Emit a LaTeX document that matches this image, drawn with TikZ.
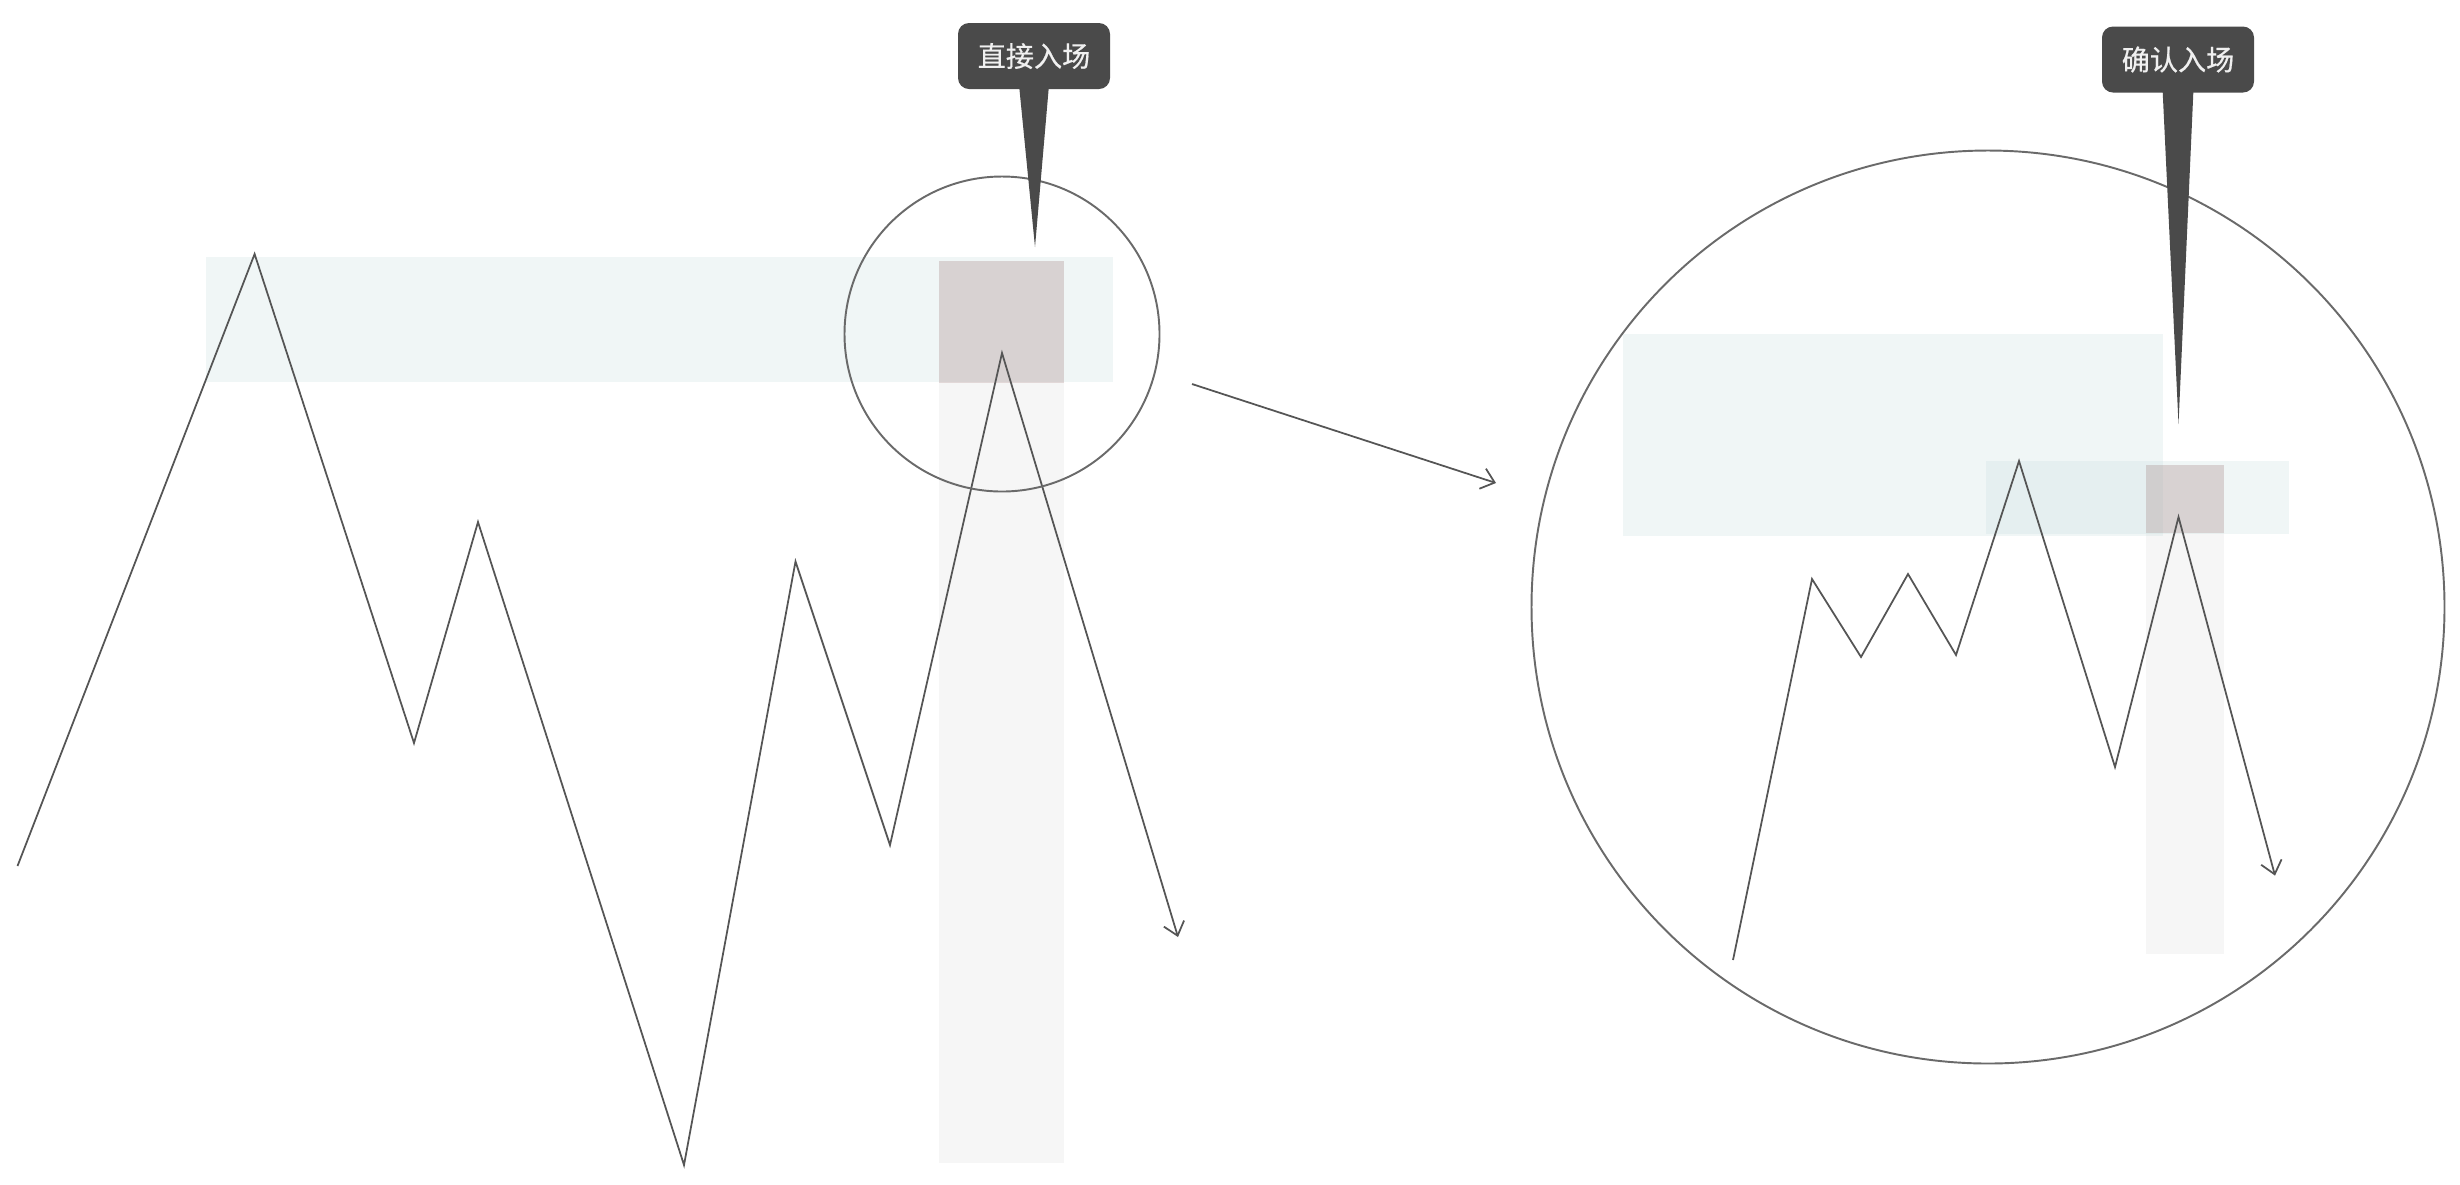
\documentclass[tikz,border=0pt]{standalone}
\usepackage{fontspec}
\newfontfamily\cjk{Noto Sans CJK SC}[FakeBold=0.6]
\usetikzlibrary{arrows.meta}
\definecolor{linegray}{HTML}{555555}
\definecolor{circgray}{HTML}{6A6A6A}
\definecolor{bandblue}{HTML}{C8DEDF}
\definecolor{bandpink}{HTML}{A88A8A}
\definecolor{bandgray}{HTML}{F6F6F6}
\definecolor{calloutbg}{HTML}{4A4A4A}
\definecolor{callouttext}{HTML}{F0F0F0}
\tikzset{
  zig/.style={draw=linegray, line width=0.5pt, line join=miter},
  tip/.style={-{Straight Barb[length=3.6pt,width=6pt,line width=0.5pt]}},
  blueband/.style={fill=bandblue, fill opacity=0.28},
  pinkband/.style={fill=bandpink, fill opacity=0.33},
  grayband/.style={fill=bandgray},
  lens/.style={draw=circgray, line width=0.55pt},
  calloutbox/.style={fill=calloutbg, rounded corners=1.1mm, minimum width=15.2mm,
    minimum height=6.6mm, inner sep=0pt, text=callouttext,
    font=\cjk\fontsize{8pt}{9pt}\selectfont},
  pointer/.style={fill=calloutbg}
}
\begin{document}
\begin{tikzpicture}[x=0.1mm,y=-0.1mm]
\useasboundingbox (0,0) rectangle (2460,1184);

% ---------- left chart ----------
\fill[grayband] (938.6,383) rectangle (1063.5,1163);
\fill[blueband] (205.5,257) rectangle (1113,382);
\fill[pinkband] (938.6,261) rectangle (1063.5,383);

\coordinate (L0) at (17.5,866);
\coordinate (L1) at (254.6,254);
\coordinate (L2) at (414,743);
\coordinate (L3) at (478,522);
\coordinate (L4) at (684,1165);
\coordinate (L5) at (795.5,561.5);
\coordinate (L6) at (890,845);
\coordinate (L7) at (1002,353);
\coordinate (L8) at (1178,937);
\draw[zig,tip] (L0) -- (L1) -- (L2) -- (L3) -- (L4) -- (L5) -- (L6) -- (L7) -- (L8);

\node[lens, circle, minimum size=31.5mm, inner sep=0pt] (lensA) at (1002,334) {};

% ---------- connector ----------
\coordinate (arA) at (1192,384);
\coordinate (arB) at (1496,483);
\draw[zig,tip] (arA) -- (arB);

% ---------- right chart ----------
\fill[grayband] (2146,533) rectangle (2224,954);
\fill[blueband] (1622.5,334) rectangle (2163,536);
\fill[blueband] (1985.6,461) rectangle (2288.7,534);
\fill[pinkband] (2146,465) rectangle (2224,533);

\coordinate (R0) at (1733,960);
\coordinate (R1) at (1812,579);
\coordinate (R2) at (1861,657);
\coordinate (R3) at (1908,574);
\coordinate (R4) at (1956,655);
\coordinate (R5) at (2019,461);
\coordinate (R6) at (2115,767);
\coordinate (R7) at (2178.5,517);
\coordinate (R8) at (2275,875.6);
\draw[zig,tip] (R0) -- (R1) -- (R2) -- (R3) -- (R4) -- (R5) -- (R6) -- (R7) -- (R8);

\node[lens, circle, minimum size=91.3mm, inner sep=0pt] (lensB) at (1988,607) {};

% ---------- callouts ----------
\node[calloutbox] (c1) at (1034,56) {直接入场};
\coordinate (tip1) at (1035,247);
\fill[pointer] ([xshift=-1.5mm,yshift=0.5mm]c1.south) -- (tip1) -- ([xshift=1.5mm,yshift=0.5mm]c1.south) -- cycle;

\node[calloutbox] (c2) at (2178,59.5) {确认入场};
\coordinate (tip2) at (2178.5,424);
\fill[pointer] ([xshift=-1.55mm,yshift=0.5mm]c2.south) -- (tip2) -- ([xshift=1.55mm,yshift=0.5mm]c2.south) -- cycle;
\end{tikzpicture}
\end{document}
